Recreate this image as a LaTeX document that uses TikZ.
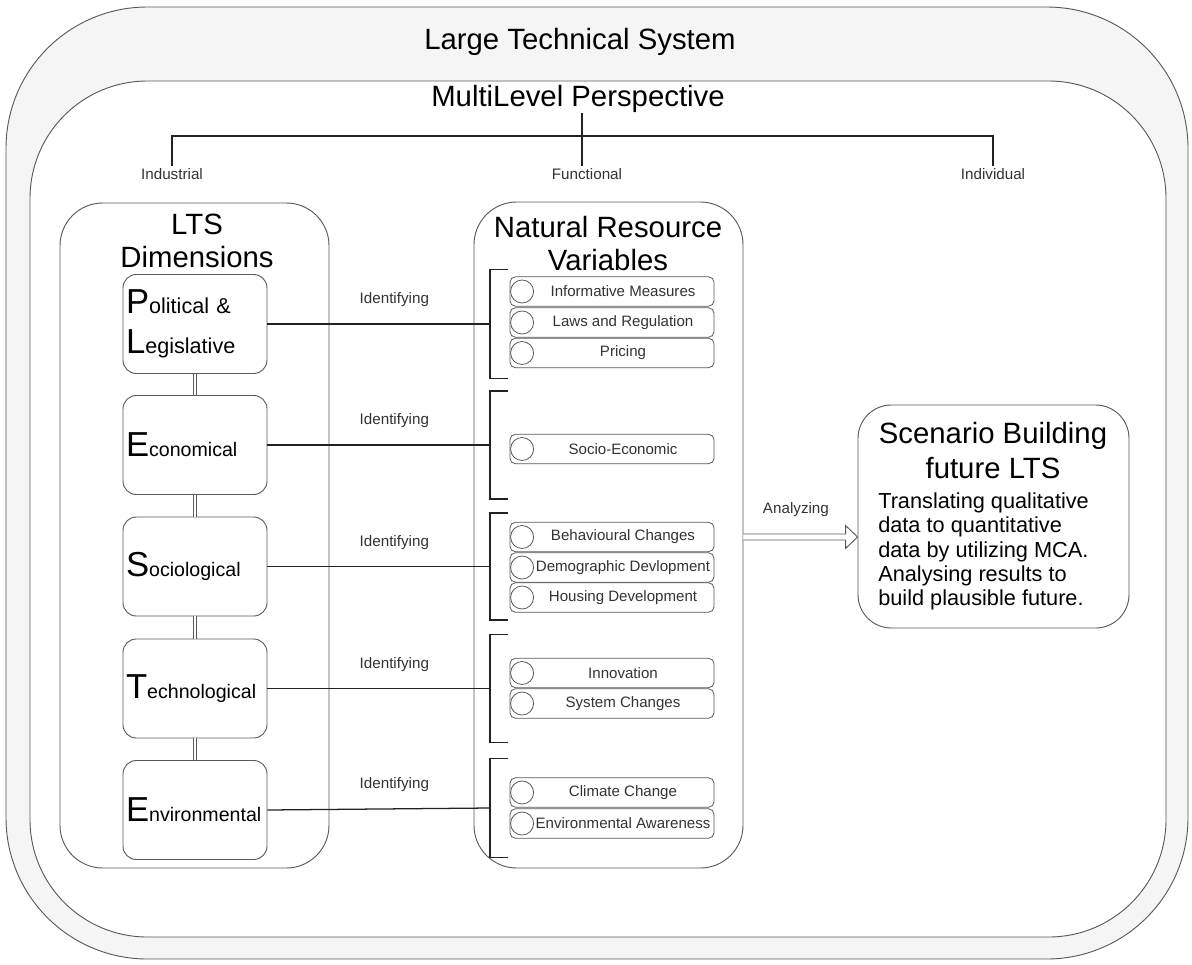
\documentclass[tikz,border=0pt]{standalone}
\usepackage{fontspec}
\setmainfont{Liberation Sans}
\usetikzlibrary{calc}
\definecolor{ringfill}{HTML}{F5F5F5}
\definecolor{frame}{HTML}{5A5A5A}
\definecolor{ink}{HTML}{222222}
\definecolor{soft}{HTML}{333333}

% large first letter of a dimension name
\newcommand{\dimcap}[1]{{\fontsize{26}{30}\selectfont #1}}

% one variable: rounded box, circle on the left, caption
\newcommand{\nrvitem}[3]{%
  \node[nrvbox] (#1) at (612,#2) {};
  \node[itemdot] (#1c) at ($(#1.west)+(12.5,0)$) {};
  \node[itemtext] at ($(#1.center)+(11,0)$) {#3};}

\begin{document}
\begin{tikzpicture}[x=0.75pt,y=-0.75pt,
  frm/.style={draw=frame, line width=0.7pt},
  headtext/.style={font=\fontsize{22}{24.75}\selectfont, align=center, inner sep=0pt},
  dimbox/.style={frm, fill=white, rounded corners=10pt, minimum height=74.25pt,
    text width=103.5pt, inner xsep=2.25pt, inner ysep=0pt, align=left,
    font=\fontsize{14.7}{30}\selectfont},
  nrvbox/.style={draw=frame, line width=0.6pt, rounded corners=4pt,
    minimum width=153pt, minimum height=22pt, inner sep=0pt},
  itemdot/.style={circle, draw=frame, line width=0.6pt, minimum size=17.25pt, inner sep=0pt},
  itemtext/.style={font=\fontsize{11.3}{13}\selectfont, text=soft, inner sep=0pt},
  lbl/.style={font=\fontsize{11.4}{13}\selectfont, text=soft, inner sep=1.5pt},
  wire/.style={draw=ink, line width=0.95pt},
  clamp/.style={draw=ink, line width=1pt},
  pairline/.style={draw=frame, line width=0.55pt, double=white, double distance=1.8pt},
]

\useasboundingbox (0,0) rectangle (1192,964);

% outer frame: Large Technical System
\draw[frm, fill=ringfill, rounded corners=106pt] (6,7) rectangle (1188,959);
\node[headtext] (ltstitle) at (580,42) {Large Technical System};

% inner frame: MultiLevel Perspective
\draw[frm, fill=white, rounded corners=88pt] (30,81) rectangle (1166,937);
\node[headtext] (mlp) at (578,99) {MultiLevel Perspective};

% levels tree
\node[lbl] (ind) at (172,174) {Industrial};
\node[lbl] (fun) at (587,174) {Functional};
\node[lbl] (indv) at (993,174) {Individual};
\coordinate (stem) at (582,0);
\coordinate (bar) at (0,136);
\draw[wire] (ind.north) -- (ind.north |- bar) -- (indv.north |- bar) -- (indv.north);
\draw[wire] (stem |- mlp.south) -- (stem |- fun.north);

% containers
\node[frm, fill=white, rounded corners=32pt, minimum width=201.75pt,
  minimum height=498.75pt] (ltsbox) at (194.5,535.5) {};
\node[headtext] at (197,241) {LTS\\Dimensions};
\node[frm, fill=white, rounded corners=32pt, minimum width=201.75pt,
  minimum height=499.5pt] (nrv) at (608.5,535) {};
\node[headtext] at (608,244) {Natural Resource\\Variables};

% LTS dimensions
\node[dimbox, font=\fontsize{16.2}{30}\selectfont] (pl) at (195,324)
  {\dimcap{P}olitical \&\\\dimcap{L}egislative};
\node[dimbox] (ec) at (195,445) {\dimcap{E}conomical};
\node[dimbox] (so) at (195,566.5) {\dimcap{S}ociological};
\node[dimbox] (te) at (195,688.5) {\dimcap{T}echnological};
\node[dimbox] (en) at (195,810) {\dimcap{E}nvironmental};

\draw[pairline] (pl.south) -- (ec.north);
\draw[pairline] (ec.south) -- (so.north);
\draw[pairline] (so.south) -- (te.north);
\draw[pairline] (te.south) -- (en.north);

% brackets grouping the variables
\foreach \n/\y/\h in {1/324/54.5, 2/445/54, 3/566.5/53.5, 4/688.5/54, 5/808/49.5} {
  \coordinate (k\n) at (490,\y);
  \draw[clamp] ($(k\n)+(18,-\h)$) -- ($(k\n)+(0,-\h)$) -- ($(k\n)+(0,\h)$) -- ($(k\n)+(18,\h)$);
}

% identifying links
\draw[wire] (pl.east) -- node[lbl, pos=0.57, yshift=18pt] {Identifying} (k1);
\draw[wire] (ec.east) -- node[lbl, pos=0.57, yshift=18pt] {Identifying} (k2);
\draw[wire] (so.east) -- node[lbl, pos=0.57, yshift=18pt] {Identifying} (k3);
\draw[wire] (te.east) -- node[lbl, pos=0.57, yshift=18pt] {Identifying} (k4);
\draw[wire] (en.east) -- node[lbl, pos=0.57, yshift=18pt] {Identifying} (k5);

% natural resource variables
\nrvitem{v1}{291.5}{Informative Measures}
\nrvitem{v2}{322.5}{Laws and Regulation}
\nrvitem{v3}{353}{Pricing}
\nrvitem{v4}{449}{Socio-Economic}
\nrvitem{v5}{537}{Behavioural Changes}
\nrvitem{v6}{567.5}{Demographic Devlopment}
\nrvitem{v7}{597.5}{Housing Development}
\nrvitem{v8}{673}{Innovation}
\nrvitem{v9}{703.5}{System Changes}
\nrvitem{v10}{792.5}{Climate Change}
\nrvitem{v11}{823.5}{Environmental Awareness}

% scenario building
\node[frm, fill=white, rounded corners=25pt, minimum width=203.25pt,
  minimum height=167.25pt] (sc) at (993.5,516.5) {};
\node[headtext, font=\fontsize{22}{26.25}\selectfont] at (993,451) {Scenario Building\\future LTS};
\node[font=\fontsize{16.3}{18.2}\selectfont, align=left, inner sep=0pt, anchor=west]
  at (878,551.5) {Translating qualitative\\data to quantitative\\data by utilizing MCA.\\Analysing results to\\build plausible future.};

% hollow analyzing arrow
\coordinate (ay) at (0,537);
\coordinate (a0) at (nrv.east |- ay);
\coordinate (a1) at (sc.west |- ay);
\draw[frm, fill=white, line join=miter]
  ($(a0)+(0,-3)$) -- ($(a1)+(-12,-3)$) -- ($(a1)+(-12,-11.5)$) -- (a1)
  -- ($(a1)+(-12,11.5)$) -- ($(a1)+(-12,3)$) -- ($(a0)+(0,3)$);
\node[lbl] at ($(a0)!0.46!(a1)+(0,-27)$) {Analyzing};

\end{tikzpicture}
\end{document}
